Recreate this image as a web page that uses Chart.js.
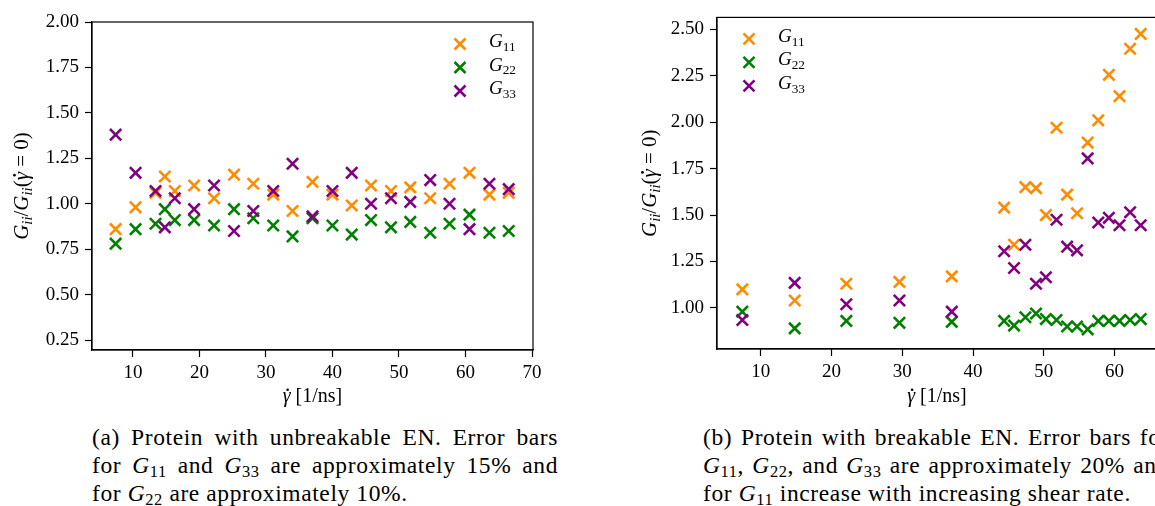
<!DOCTYPE html>
<html>
<head>
<meta charset="utf-8">
<script src="https://cdn.jsdelivr.net/npm/chart.js@4.4.1/dist/chart.umd.min.js"></script>
<style>
  html, body { margin: 0; padding: 0; background: #fff; }
  #page { position: relative; width: 1155px; height: 506px; overflow: hidden; }
  .panel { position: absolute; top: 0; height: 415px; }
  #panelA { left: 0; width: 575px; }
  #panelB { left: 580px; width: 620px; }
  .caption {
    position: absolute; top: 423px; width: 466px;
    font-family: "Liberation Serif", "Times New Roman", "DejaVu Serif", serif;
    font-size: 23.5px; letter-spacing: 0.6px; line-height: 28px; color: #000;
  }
  #captionA { left: 92px; }
  #captionB { left: 703px; }
  .caption .j { text-align: justify; text-align-last: justify; white-space: nowrap; }
  .caption sub { font-size: 70%; vertical-align: -0.25em; line-height: 0; }
</style>
</head>
<body>
<div id="page">
  <div class="panel" id="panelA"><canvas id="chartA"></canvas></div>
  <div class="panel" id="panelB"><canvas id="chartB"></canvas></div>
  <div class="caption" id="captionA">
    <div class="j">(a) Protein with unbreakable EN. Error bars</div>
    <div class="j">for <i>G</i><sub>11</sub> and <i>G</i><sub>33</sub> are approximately 15% and</div>
    <div>for <i>G</i><sub>22</sub> are approximately 10%.</div>
  </div>
  <div class="caption" id="captionB">
    <div class="j">(b) Protein with breakable EN. Error bars for</div>
    <div class="j"><i>G</i><sub>11</sub>, <i>G</i><sub>22</sub>, and <i>G</i><sub>33</sub> are approximately 20% and</div>
    <div>for <i>G</i><sub>11</sub> increase with increasing shear rate.</div>
  </div>
</div>
<script>
  // (a) unbreakable EN
  const shearA = [7.4, 10.4, 13.4, 14.8, 16.3, 19.2, 22.2, 25.2, 28.1, 31.1, 34.0, 37.0, 40.0, 42.9, 45.8, 48.8, 51.7, 54.7, 57.6, 60.6, 63.6, 66.5];
  const g11A = [0.86, 0.98, 1.06, 1.15, 1.07, 1.10, 1.03, 1.16, 1.11, 1.05, 0.96, 1.12, 1.05, 0.99, 1.10, 1.07, 1.09, 1.03, 1.11, 1.17, 1.05, 1.06];
  const g22A = [0.78, 0.86, 0.89, 0.97, 0.91, 0.91, 0.88, 0.97, 0.92, 0.88, 0.82, 0.92, 0.88, 0.83, 0.91, 0.87, 0.90, 0.84, 0.89, 0.94, 0.84, 0.85];
  const g33A = [1.38, 1.17, 1.07, 0.87, 1.03, 0.97, 1.10, 0.85, 0.96, 1.07, 1.22, 0.93, 1.07, 1.17, 1.00, 1.03, 1.01, 1.13, 1.00, 0.86, 1.11, 1.08];

  // (b) breakable EN
  const shearB = [7.4, 14.8, 22.1, 29.6, 37.0, 44.4, 45.8, 47.4, 48.9, 50.3, 51.8, 53.3, 54.7, 56.2, 57.7, 59.2, 60.7, 62.2, 63.7];
  const g11B = [1.10, 1.04, 1.13, 1.14, 1.17, 1.54, 1.34, 1.65, 1.645, 1.50, 1.97, 1.61, 1.51, 1.89, 2.01, 2.255, 2.14, 2.395, 2.475];
  const g22B = [0.98, 0.89, 0.93, 0.92, 0.925, 0.93, 0.905, 0.95, 0.97, 0.94, 0.935, 0.90, 0.90, 0.885, 0.93, 0.93, 0.93, 0.935, 0.94];
  const g33B = [0.935, 1.135, 1.02, 1.04, 0.98, 1.305, 1.215, 1.34, 1.13, 1.165, 1.475, 1.33, 1.31, 1.805, 1.46, 1.485, 1.445, 1.515, 1.445];

  const xTicksA = [10, 20, 30, 40, 50, 60, 70];
  const yTicksA = [0.25, 0.5, 0.75, 1.0, 1.25, 1.5, 1.75, 2.0];
  const xTicksB = [10, 20, 30, 40, 50, 60];
  const yTicksB = [1.0, 1.25, 1.5, 1.75, 2.0, 2.25, 2.5];

  const seriesLabels = ["11", "22", "33"];
  const seriesColors = ["#ff8c00", "#008000", "#800080"];

  const FAMILY = "'Liberation Serif', 'Times New Roman', 'DejaVu Serif', serif";
  Chart.defaults.font.family = FAMILY;
  Chart.defaults.color = "#000";

  // parts: [text, style]; r roman, i italic, s italic subscript, n roman subscript, g gamma with dot
  function drawRich(ctx, parts, size, x, y, angle, align) {
    const fonts = {
      r: `${size}px ${FAMILY}`,
      i: `italic ${size}px ${FAMILY}`,
      g: `italic ${size}px ${FAMILY}`,
      s: `italic ${size * 0.7}px ${FAMILY}`,
      n: `${size * 0.7}px ${FAMILY}`
    };
    let total = 0;
    parts.forEach(([text, style]) => {
      ctx.font = fonts[style];
      total += ctx.measureText(text).width;
    });
    ctx.save();
    ctx.translate(x, y);
    ctx.rotate(angle);
    ctx.fillStyle = "#000";
    ctx.textBaseline = "middle";
    ctx.textAlign = "left";
    let pos = align === "left" ? 0 : -total / 2;
    parts.forEach(([text, style]) => {
      ctx.font = fonts[style];
      const dy = style === "s" || style === "n" ? size * 0.28 : 0;
      const w = ctx.measureText(text).width;
      ctx.fillText(text, pos, dy);
      if (style === "g") {
        ctx.beginPath();
        ctx.arc(pos + w * 0.62, -size * 0.36, size * 0.065, 0, Math.PI * 2);
        ctx.fill();
      }
      pos += w;
    });
    ctx.restore();
  }

  const frame = {
    id: "frame",
    afterDraw(chart, args, opts) {
      const { ctx, chartArea } = chart;
      ctx.save();
      ctx.strokeStyle = "#000";
      ctx.lineWidth = 1.2;
      ctx.strokeRect(chartArea.left, chartArea.top, chartArea.right - chartArea.left, chartArea.bottom - chartArea.top);
      ctx.restore();

      const midY = (chartArea.top + chartArea.bottom) / 2;
      const midX = (chartArea.left + chartArea.right) / 2;
      drawRich(ctx, [["G", "i"], ["ii", "s"], ["/", "r"], ["G", "i"], ["ii", "s"], ["(", "r"], ["γ", "g"], [" = 0)", "r"]],
        21, opts.yTitleX, midY, -Math.PI / 2);
      drawRich(ctx, [["γ", "g"], [" [1/ns]", "r"]], 20, midX, opts.xTitleY, 0);

      // legend
      chart.data.datasets.forEach((ds, i) => {
        const ly = chartArea.top + opts.legendTop + i * 23.5;
        const lx = opts.legendRight ? chartArea.right - opts.legendRight : chartArea.left + opts.legendLeft;
        const r = 5.5;
        ctx.save();
        ctx.strokeStyle = ds.borderColor;
        ctx.lineWidth = 2.6;
        ctx.beginPath();
        ctx.moveTo(lx - r, ly - r); ctx.lineTo(lx + r, ly + r);
        ctx.moveTo(lx - r, ly + r); ctx.lineTo(lx + r, ly - r);
        ctx.stroke();
        ctx.restore();
        drawRich(ctx, [["G", "i"], [seriesLabels[i], "n"]], 19, lx + 29, ly - 2, 0, "left");
      });
    }
  };

  function makeDatasets(xs, ys) {
    return ys.map((values, i) => ({
      label: "G" + seriesLabels[i],
      data: xs.map((x, k) => ({ x, y: values[k] })),
      borderColor: seriesColors[i],
      backgroundColor: seriesColors[i],
      pointStyle: "crossRot",
      pointRadius: 8,
      pointHoverRadius: 8,
      pointBorderWidth: 2.6,
      showLine: false,
      order: 2 - i
    }));
  }

  function axis(min, max, tickValues, digits, afterFit, pad) {
    return {
      type: "linear",
      min, max,
      afterBuildTicks: (scale) => { scale.ticks = tickValues.map((value) => ({ value })); },
      afterFit,
      grid: { display: true, drawOnChartArea: false, drawTicks: true, tickLength: 7, tickWidth: 1.2, tickColor: "#000" },
      border: { display: true, color: "#000", width: 1.2 },
      ticks: {
        font: { size: 19 },
        color: "#000",
        padding: pad,
        maxRotation: 0,
        autoSkip: false,
        callback: (v) => digits ? Number(v).toFixed(digits) : String(v)
      },
      title: { display: false }
    };
  }

  function makeChart(id, xs, ys, cfg) {
    return new Chart(document.getElementById(id), {
      type: "scatter",
      data: { datasets: makeDatasets(xs, ys) },
      options: {
        responsive: true,
        maintainAspectRatio: false,
        animation: false,
        events: [],
        layout: { padding: cfg.padding },
        plugins: {
          legend: { display: false },
          tooltip: { enabled: false },
          frame: cfg.frame
        },
        scales: {
          x: axis(cfg.xMin, cfg.xMax, cfg.xTicks, 0, (s) => { s.height = cfg.xHeight; }, 5),
          y: axis(cfg.yMin, cfg.yMax, cfg.yTicks, 2, (s) => { s.width = cfg.yWidth; }, 6)
        }
      },
      plugins: [frame]
    });
  }

  makeChart("chartA", shearA, [g11A, g22A, g33A], {
    xMin: 3.85, xMax: 70.15, yMin: 0.195, yMax: 2.0,
    xTicks: xTicksA, yTicks: yTicksA,
    padding: { left: 0, right: 42, top: 22, bottom: 0 },
    yWidth: 92, xHeight: 65,
    frame: { yTitleX: 22, xTitleY: 397, legendRight: 73, legendTop: 22 }
  });

  makeChart("chartB", shearB, [g11B, g22B, g33B], {
    xMin: 3.82, xMax: 66.0, yMin: 0.779, yMax: 2.564,
    xTicks: xTicksB, yTicks: yTicksB,
    padding: { left: 0, right: 43, top: 16, bottom: 0 },
    yWidth: 137, xHeight: 66,
    frame: { yTitleX: 70, xTitleY: 397, legendLeft: 32, legendTop: 21.5 }
  });
</script>
</body>
</html>
